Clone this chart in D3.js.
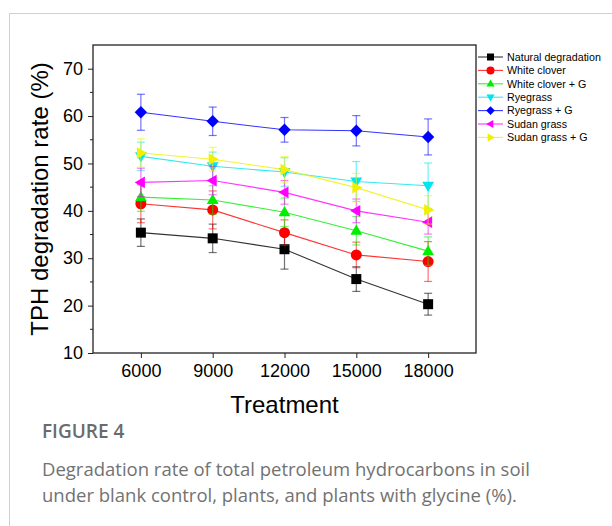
<!DOCTYPE html>
<html>
<head>
<meta charset="utf-8">
<script src="https://cdn.jsdelivr.net/npm/d3@7"></script>
<style>
  body { margin: 0; background: #fff; }
  svg { display: block; }
</style>
</head>
<body>
<script>
const width = 612, height = 526;
const FONT = "'Liberation Sans', Arial, Helvetica, sans-serif";
const CAPTION_FONT = "'Open Sans', sans-serif";

// treatments (x) and series
const treatments = [6000, 9000, 12000, 15000, 18000];
const seriesNames = ["Natural degradation", "White clover", "White clover + G", "Ryegrass", "Ryegrass + G", "Sudan grass", "Sudan grass + G"];
const seriesColors = ["#000000", "#ff0000", "#00ee00", "#00e5ee", "#0000ff", "#ff00ff", "#f0f000"];
const seriesShapes = ["square", "circle", "triUp", "triDown", "diamond", "triLeft", "triRight"];

const naturalVals = [35.4, 34.2, 31.9, 25.6, 20.3];
const naturalErr = [2.9, 3.0, 4.2, 2.6, 2.3];
const cloverVals = [41.5, 40.2, 35.4, 30.7, 29.3];
const cloverErr = [4.0, 4.0, 2.7, 2.7, 4.2];
const cloverGVals = [42.9, 42.3, 39.7, 35.8, 31.5];
const cloverGErr = [3.0, 3.0, 3.0, 3.0, 3.0];
const ryeVals = [51.5, 49.4, 48.2, 46.2, 45.3];
const ryeErr = [3.0, 3.0, 3.0, 4.2, 4.8];
const ryeGVals = [60.8, 58.9, 57.1, 56.9, 55.6];
const ryeGErr = [3.8, 3.0, 2.6, 3.2, 3.8];
const sudanVals = [46.0, 46.4, 43.9, 40.0, 37.6];
const sudanErr = [3.0, 3.0, 2.5, 2.5, 2.5];
const sudanGVals = [52.2, 50.9, 48.7, 44.9, 40.2];
const sudanGErr = [3.0, 2.5, 2.8, 3.0, 3.0];

const allVals = [naturalVals, cloverVals, cloverGVals, ryeVals, ryeGVals, sudanVals, sudanGVals];
const allErr = [naturalErr, cloverErr, cloverGErr, ryeErr, ryeGErr, sudanErr, sudanGErr];

const yTicks = [10, 20, 30, 40, 50, 60, 70];

const series = seriesNames.map((name, i) => ({
  name: name,
  color: seriesColors[i],
  shape: seriesShapes[i],
  points: treatments.map((t, j) => ({ x: t, y: allVals[i][j], e: allErr[i][j] }))
}));

const plot = { left: 93, right: 476, top: 45, bottom: 353 };

const svg = d3.select("body").append("svg")
  .attr("width", width)
  .attr("height", height);

// card border
svg.append("path")
  .attr("d", "M9.5," + height + " V13.5 H" + width)
  .attr("fill", "none")
  .attr("stroke", "#d0d0d0")
  .attr("stroke-width", 1);

const x = d3.scaleLinear().domain([4000, 20000]).range([plot.left, plot.right]);
const y = d3.scaleLinear().domain([10, 75]).range([plot.bottom, plot.top]);

// marker symbol paths
const markerPath = (shape, s) => {
  switch (shape) {
    case "square": return d3.symbol(d3.symbolSquare, s * s)();
    case "circle": return d3.symbol(d3.symbolCircle, Math.PI * (s / 2 + 0.5) * (s / 2 + 0.5))();
    case "diamond": { const r = s * 0.62; return `M0,${-r}L${r},0L0,${r}L${-r},0Z`; }
    default: {
      const r = s * 0.62;
      const up = `M0,${-r}L${r * 0.95},${r * 0.65}L${-r * 0.95},${r * 0.65}Z`;
      const rot = { triUp: 0, triDown: 180, triLeft: -90, triRight: 90 }[shape];
      return { d: up, rot: rot };
    }
  }
};
const drawMarker = (g, shape, color, cx, cy, s) => {
  const m = markerPath(shape, s);
  const p = g.append("path").attr("fill", color);
  if (typeof m === "string") {
    p.attr("d", m).attr("transform", `translate(${cx},${cy})`);
  } else {
    p.attr("d", m.d).attr("transform", `translate(${cx},${cy}) rotate(${m.rot})`);
  }
};

// axes
const yAxis = d3.axisLeft(y).tickValues(yTicks).tickSize(5).tickPadding(5);
const gy = svg.append("g").attr("transform", `translate(${plot.left},0)`).call(yAxis);
gy.select(".domain").remove();
gy.selectAll("text").attr("font-family", FONT).attr("font-size", 18).attr("fill", "#000");
gy.selectAll("line").attr("stroke", "#222");

// minor ticks on y
svg.append("g").selectAll("line")
  .data(d3.range(15, 75, 10))
  .join("line")
  .attr("x1", plot.left - 3).attr("x2", plot.left)
  .attr("y1", d => y(d)).attr("y2", d => y(d))
  .attr("stroke", "#222");

const xAxis = d3.axisBottom(x).tickValues(treatments).tickFormat(d3.format("d")).tickSize(5).tickPadding(6);
const gx = svg.append("g").attr("transform", `translate(0,${plot.bottom})`).call(xAxis);
gx.select(".domain").remove();
gx.selectAll("text").attr("font-family", FONT).attr("font-size", 18).attr("fill", "#000");
gx.selectAll("line").attr("stroke", "#222");

// frame
svg.append("rect")
  .attr("x", plot.left).attr("y", plot.top)
  .attr("width", plot.right - plot.left).attr("height", plot.bottom - plot.top)
  .attr("fill", "none").attr("stroke", "#222").attr("stroke-width", 1.3);

// axis titles
svg.append("text")
  .attr("transform", `translate(48,${(plot.top + plot.bottom) / 2}) rotate(-90)`)
  .attr("text-anchor", "middle")
  .attr("font-family", FONT)
  .attr("font-size", 24)
  .text("TPH degradation rate (%)");

svg.append("text")
  .attr("x", (plot.left + plot.right) / 2).attr("y", 413)
  .attr("text-anchor", "middle")
  .attr("font-family", FONT)
  .attr("font-size", 24)
  .text("Treatment");

// series
const line = d3.line().x(d => x(d.x)).y(d => y(d.y));
const gData = svg.append("g");

series.forEach(s => {
  const g = gData.append("g");
  // error bars
  s.points.forEach(p => {
    const eg = g.append("g").attr("stroke", s.color).attr("stroke-opacity", 0.55).attr("stroke-width", 1.2);
    eg.append("line").attr("x1", x(p.x)).attr("x2", x(p.x)).attr("y1", y(p.y - p.e)).attr("y2", y(p.y + p.e));
    [p.y - p.e, p.y + p.e].forEach(v => {
      eg.append("line").attr("x1", x(p.x) - 4).attr("x2", x(p.x) + 4).attr("y1", y(v)).attr("y2", y(v));
    });
  });
  g.append("path")
    .datum(s.points)
    .attr("d", line)
    .attr("fill", "none")
    .attr("stroke", s.color)
    .attr("stroke-opacity", 0.8)
    .attr("stroke-width", 1.1);
  s.points.forEach(p => drawMarker(g, s.shape, s.color, x(p.x), y(p.y), 10));
});

// legend
const legend = svg.append("g").attr("transform", "translate(478,57)");
series.forEach((s, i) => {
  const row = legend.append("g").attr("transform", `translate(0,${i * 13.4})`);
  row.append("line").attr("x1", 0).attr("x2", 25).attr("y1", 0).attr("y2", 0)
    .attr("stroke", s.color).attr("stroke-opacity", 0.8).attr("stroke-width", 1.1);
  drawMarker(row, s.shape, s.color, 12.5, 0, 7);
  row.append("text")
    .attr("x", 29).attr("y", 3.8)
    .attr("font-family", FONT)
    .attr("font-size", 10.7)
    .attr("fill", "#000")
    .text(s.name);
});

// caption
svg.append("text")
  .attr("x", 42).attr("y", 438)
  .attr("font-family", CAPTION_FONT)
  .attr("font-size", 19)
  .attr("font-weight", 600)
  .attr("fill", "#6b6b6b")
  .text("FIGURE 4");

const captionLines = [
  "Degradation rate of total petroleum hydrocarbons in soil",
  "under blank control, plants, and plants with glycine (%)."
];
svg.append("g").selectAll("text")
  .data(captionLines)
  .join("text")
  .attr("x", 42)
  .attr("y", (d, i) => 476 + i * 26)
  .attr("font-family", CAPTION_FONT)
  .attr("font-size", 18.5)
  .attr("fill", "#727272")
  .text(d => d);
</script>
</body>
</html>
